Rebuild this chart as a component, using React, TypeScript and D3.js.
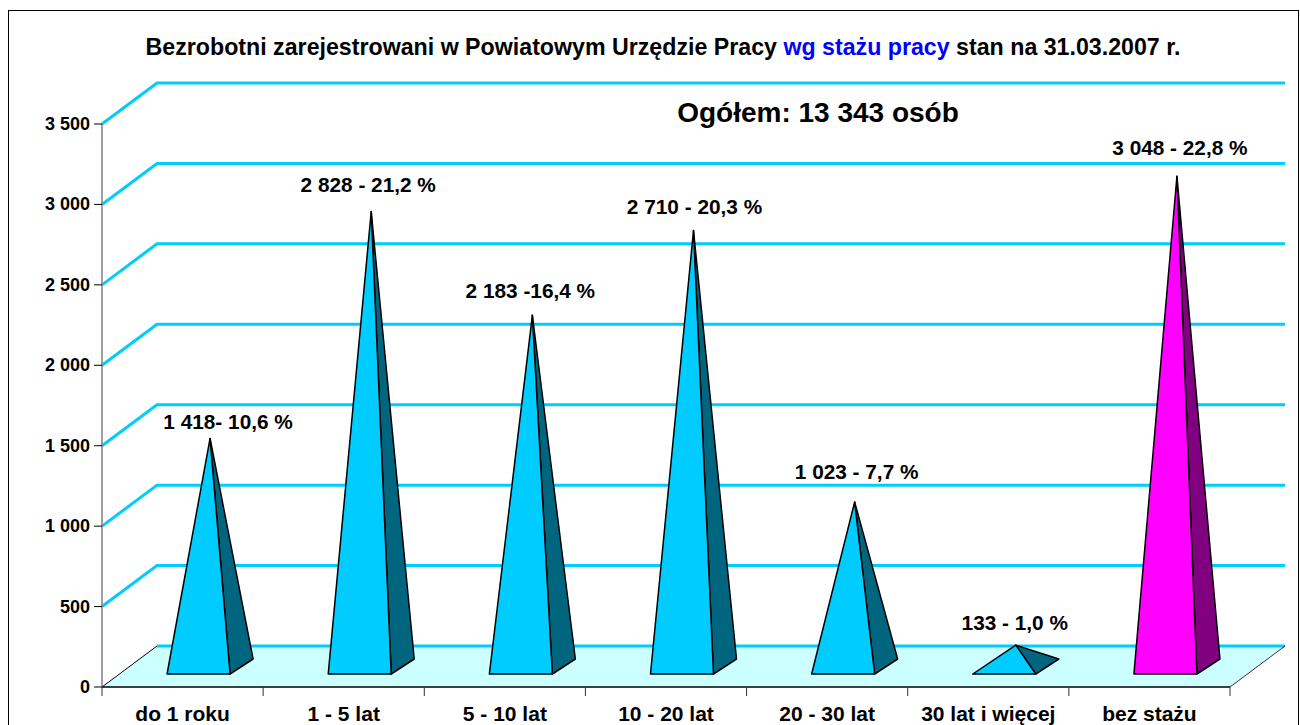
import React from 'react';
import * as d3 from 'd3';

const categories = ['do 1 roku', '1 - 5 lat', '5 - 10 lat', '10 - 20 lat', '20 - 30 lat', '30 lat i więcej', 'bez stażu'];
const values = [1418, 2828, 2183, 2710, 1023, 133, 3048];
const valueLabels = ['1 418- 10,6 %', '2 828 - 21,2 %', '2 183 -16,4 %', '2 710 - 20,3 %', '1 023 - 7,7 %', '133 - 1,0 %', '3 048 - 22,8 %'];
const yTicks = [0, 500, 1000, 1500, 2000, 2500, 3000, 3500];
const tickLabels = ['0', '500', '1 000', '1 500', '2 000', '2 500', '3 000', '3 500'];

// label nudges relative to the apex of each pyramid
const labelDx = [18, -3, -2, 1, 2, -1, 3];
const labelDy = [-9, -20, -17, -17, -23, -15, -21];

const FONT = '"Liberation Sans", Arial, sans-serif';
const CYAN = '#00ccff';

// oblique 3d offset of the chart's floor
const depthX = 55;
const depthY = 41;

const x = d3.scaleBand<string>().domain(categories).range([102, 1230]);
const y = d3.scaleLinear().domain([0, 3500]).range([687, 124]);

const App = () => {
  const line = d3.line();
  const y0 = y(0);
  const xEnd = x.range()[1];
  const xStart = x.range()[0];

  return (
    <svg width={1300} height={725} style={{ position: 'absolute', left: 0, top: 0, background: '#fff' }} fontFamily={FONT} fontWeight="bold">
      <rect x={8.5} y={10.5} width={1290} height={730} fill="none" stroke="#000" strokeWidth={1} />

      <text x={663} y={55} textAnchor="middle" fontSize={23.2}>
        Bezrobotni zarejestrowani w Powiatowym Urzędzie Pracy <tspan fill="#0000ff">wg stażu pracy</tspan> stan na 31.03.2007 r.
      </text>
      <text x={818} y={122} textAnchor="middle" fontSize={28}>Ogółem: 13 343 osób</text>

      {/* floor */}
      <path
        d={line([[xStart, y0], [xStart + depthX, y0 - depthY], [xEnd + depthX, y0 - depthY], [xEnd, y0]])! + 'Z'}
        fill="#ccffff"
      />

      {/* grid, the zero level only runs along the back of the floor */}
      {yTicks.map(t => (
        <path
          key={t}
          d={t === 0
            ? line([[xStart + depthX, y(t) - depthY], [xEnd + depthX, y(t) - depthY]])!
            : line([[xStart, y(t)], [xStart + depthX, y(t) - depthY], [xEnd + depthX, y(t) - depthY]])!}
          fill="none"
          stroke={CYAN}
          strokeWidth={3}
        />
      ))}
      <path d={line([[xStart, y0], [xStart + depthX, y0 - depthY]])!} stroke="#000" strokeWidth={1} fill="none" />
      <path d={line([[xEnd, y0], [xEnd + depthX, y0 - depthY]])!} stroke="#333" strokeWidth={1} fill="none" />

      {/* axes */}
      <line x1={xStart} x2={xStart} y1={y(3500)} y2={y0} stroke="#808080" strokeWidth={1.5} />
      <line x1={xStart} x2={xEnd} y1={y0} y2={y0} stroke="#000" strokeWidth={1.5} />
      {yTicks.map((t, i) => (
        <g key={t}>
          <line x1={xStart - 8} x2={xStart} y1={y(t)} y2={y(t)} stroke="#000" />
          <text x={xStart - 12} y={y(t) + 6} textAnchor="end" fontSize={18}>{tickLabels[i]}</text>
        </g>
      ))}
      {[...categories.map(c => x(c)!), xEnd].map(v => (
        <line key={v} x1={v} x2={v} y1={y0} y2={y0 + 9} stroke="#333" />
      ))}
      {categories.map(c => (
        <text key={c} x={x(c)! + x.bandwidth() / 2} y={721} textAnchor="middle" fontSize={21}>{c}</text>
      ))}

      {/* pyramids */}
      {categories.map((c, i) => {
        const cx = x(c)! + x.bandwidth() / 2 + depthX / 2;
        const frontY = y0 - 13;
        const fl: [number, number] = [cx - 43, frontY];
        const fr: [number, number] = [cx + 20, frontY];
        const br: [number, number] = [cx + 43, frontY - 15];
        const apex: [number, number] = [cx, y(values[i]) - depthY / 2];
        const last = i === categories.length - 1;
        return (
          <g key={c} stroke="#000" strokeWidth={1.5} strokeLinejoin="round">
            <path d={line([fr, br, apex])! + 'Z'} fill={last ? '#800080' : '#006680'} />
            <path d={line([fl, fr, apex])! + 'Z'} fill={last ? '#ff00ff' : CYAN} />
          </g>
        );
      })}

      {categories.map((c, i) => (
        <text
          key={c}
          x={x(c)! + x.bandwidth() / 2 + depthX / 2 + labelDx[i]}
          y={y(values[i]) - depthY / 2 + labelDy[i]}
          textAnchor="middle"
          fontSize={20.8}
        >
          {valueLabels[i]}
        </text>
      ))}
    </svg>
  );
};

export default App;
